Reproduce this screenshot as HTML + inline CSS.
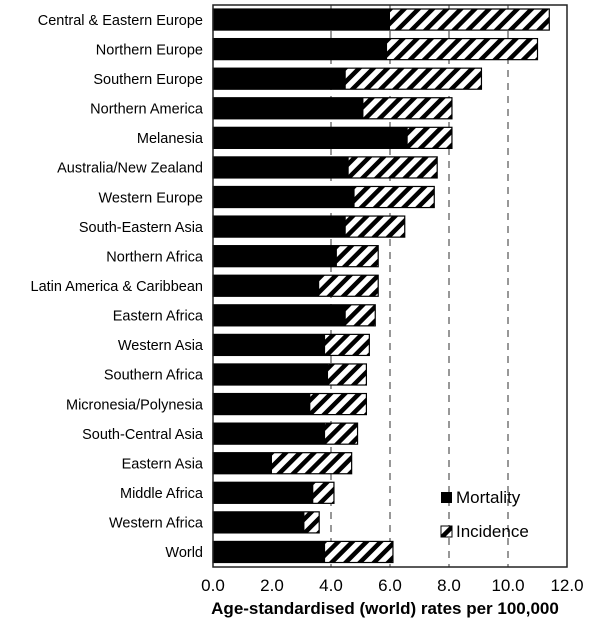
<!DOCTYPE html>
<html><head><meta charset="utf-8"><style>
body{margin:0;background:#fff;font-family:"Liberation Sans",sans-serif;}
svg{display:block}
</style></head><body>
<svg id="chart" width="600" height="637" xmlns="http://www.w3.org/2000/svg">
<defs>
<pattern id="hatch" patternUnits="userSpaceOnUse" width="10" height="10" patternTransform="rotate(45)">
<rect width="10" height="10" fill="#fff"/><rect width="4.5" height="10" fill="#000"/>
</pattern>
</defs>
<g id="grid"></g><g id="bars"></g><g id="labels"></g>
<rect x="213" y="5" width="354" height="562" fill="none" stroke="#222" stroke-width="1.5"/>
<g id="ticks"></g>
<text x="385" y="614" text-anchor="middle" font-size="17" font-weight="bold">Age-standardised (world) rates per 100,000</text>
<g>
<rect x="441" y="492" width="11" height="11" fill="#000"/>
<text x="456" y="503" font-size="17">Mortality</text>
<rect x="441" y="526" width="11" height="11" fill="url(#hatch)" stroke="#000" stroke-width="1"/>
<text x="456" y="537" font-size="17">Incidence</text>
</g>
</svg>
<script>
const categories=["Central & Eastern Europe","Northern Europe","Southern Europe","Northern America","Melanesia","Australia/New Zealand","Western Europe","South-Eastern Asia","Northern Africa","Latin America & Caribbean","Eastern Africa","Western Asia","Southern Africa","Micronesia/Polynesia","South-Central Asia","Eastern Asia","Middle Africa","Western Africa","World"];
const mortality=[6.0,5.9,4.5,5.1,6.6,4.6,4.8,4.5,4.2,3.6,4.5,3.8,3.9,3.3,3.8,2.0,3.4,3.1,3.8];
const incidence=[11.4,11.0,9.1,8.1,8.1,7.6,7.5,6.5,5.6,5.6,5.5,5.3,5.2,5.2,4.9,4.7,4.1,3.6,6.1];
const tickValues=[0,2,4,6,8,10,12];
const gridValues=[4,6,8,10];
const NS="http://www.w3.org/2000/svg";
const x=v=>213+v*(354/12);
const rowH=562/categories.length;
const y=i=>5+i*rowH;
function mk(t,a,p){const e=document.createElementNS(NS,t);for(const k in a)e.setAttribute(k,a[k]);p.appendChild(e);return e;}
const grid=document.getElementById('grid'),bars=document.getElementById('bars'),labels=document.getElementById('labels'),ticks=document.getElementById('ticks');
gridValues.forEach(v=>{
 const l=mk('line',{x1:x(v),x2:x(v),y1:5,y2:567,stroke:'#777','stroke-width':1.5,'stroke-dasharray':'7,6'},grid);
 
 
});
categories.forEach((c,i)=>{
 const top=y(i)+4,h=rowH-8.5;
 const ri=mk('rect',{x:x(0),y:top,width:x(incidence[i])-x(0),height:h,fill:'url(#hatch)',stroke:'#000','stroke-width':1.2},bars);
 
 
 const rm=mk('rect',{x:x(0),y:top,width:x(mortality[i])-x(0),height:h,fill:'#000'},bars);
 
 
 const t=mk('text',{x:203,y:y(i)+rowH/2+5,'text-anchor':'end','font-size':14.5},labels);
 t.textContent=c;
 
 
});
tickValues.forEach(v=>{
 const t=mk('text',{x:x(v),y:591,'text-anchor':'middle','font-size':17},ticks);
 t.textContent=v.toFixed(1);
 
 
});
</script>
</body></html>
